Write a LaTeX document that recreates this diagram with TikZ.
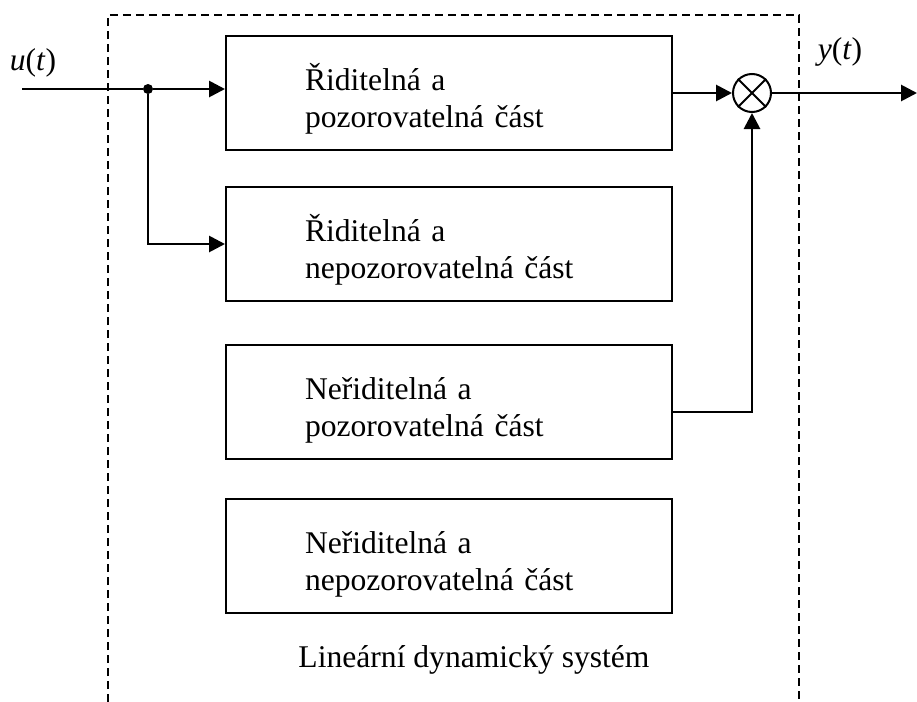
\documentclass[tikz,border=0pt]{standalone}
\usepackage{fontspec}
\setmainfont{Liberation Serif}
\usetikzlibrary{arrows.meta}

\begin{document}
\begin{tikzpicture}
  [x=0.5pt,y=-0.5pt,
  every node/.style={font=\fontsize{15.8}{18.5}\selectfont},
  part/.style={rectangle,draw=black,line width=1pt,align=left,
                  minimum width=223pt,minimum height=57pt,text width=144pt,
                  inner xsep=39.5pt,inner ysep=0pt,
                  execute at begin node={\rule{0pt}{19.8pt}},
                  execute at end node={\rule[-3.8pt]{0pt}{3.8pt}}},
  multiplier/.style={circle,draw=black,line width=1pt,minimum size=19pt,
                  inner sep=0pt},
  junction/.style={circle,fill=black,minimum size=5pt,inner sep=0pt},
  sig/.style={line width=1.4pt,-{Triangle[length=8pt,width=8pt]}},
  border/.style={line width=0.9pt,dash pattern=on 4pt off 2.5pt}
  ]
  \useasboundingbox (0,0) rectangle (917,702);

  \node[part] (part1) at (449,93) {Řiditelná a\\pozorovatelná část};
  \node[part] (part2) at (449,244) {Řiditelná a\\nepozorovatelná část};
  \node[part] (part3) at (449,402) {Neřiditelná a\\pozorovatelná část};
  \node[part] (part4) at (449,555.5) {Neřiditelná a\\nepozorovatelná část};
  \node[multiplier] (mul) at (752,93) {};
  \node[junction] (split) at (148,89) {};
  \coordinate (uin) at (22,89);
  \coordinate (yout) at (917,93);
  \node[anchor=base] (ulabel) at (33,70.5) {\textit{u}(\textit{t})};
  \node[anchor=base] (ylabel) at (840,59) {\textit{y}(\textit{t})};
  \node[anchor=base] (syslabel) at (474,667) {Lineární dynamický systém};

  % system border, open at the bottom
  \coordinate (bl) at (108,702);
  \coordinate (tl) at (108,15);
  \coordinate (tr) at (799,15);
  \coordinate (br) at (799,702);
  \draw[border] (bl) -- (tl) -- (tr) -- (br);

  \draw[line width=1.4pt] (uin) to (split);
  \draw[sig] (split) to (split -| part1.west);
  \draw[sig] (split) |- (part2.west);
  \draw[sig] (part1.east) to (mul.west);
  \draw[sig] ([yshift=-5pt]part3.east) -| (mul.south);
  \draw[sig] (mul.east) to (yout);
  \draw[line width=1pt] (mul.north west) -- (mul.south east);
  \draw[line width=1pt] (mul.north east) -- (mul.south west);
\end{tikzpicture}
\end{document}
